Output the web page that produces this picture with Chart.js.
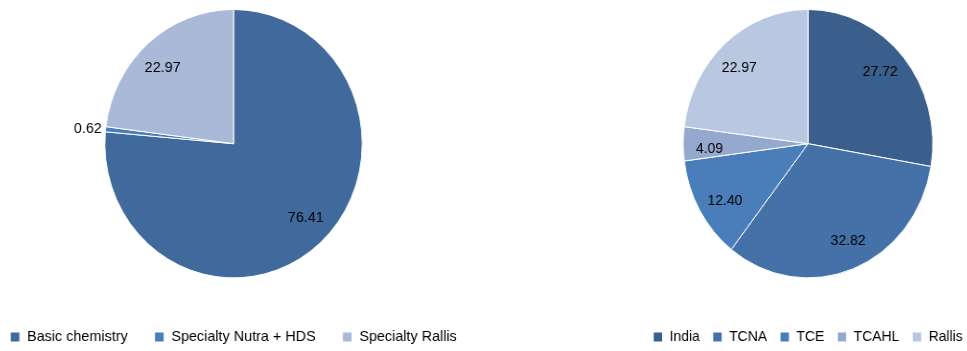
<!DOCTYPE html>
<html>
<head>
<meta charset="utf-8">
<script src="https://cdn.jsdelivr.net/npm/chart.js@4/dist/chart.umd.min.js"></script>
<style>
  html, body { margin: 0; padding: 0; background: #fff; overflow: hidden; width: 967px; height: 351px; }
  .pieBox { position: absolute; top: 0; transform-origin: 0 0; }
</style>
</head>
<body>
<div class="pieBox" id="leftBox" style="left:-35.3px; transform:scaleX(0.959)">
  <canvas id="segments" width="560" height="355"></canvas>
</div>
<div class="pieBox" id="rightBox" style="left:622.4px; transform:scaleX(0.93)">
  <canvas id="entities" width="400" height="355"></canvas>
</div>
<script>
// Segment split
var segmentLabels = ["Basic chemistry", "Specialty Nutra + HDS", "Specialty Rallis"];
var segmentValues = [76.41, 0.62, 22.97];
var segmentColors = ["#416A9C", "#4A7EBB", "#A9B9D7"];

// Entity split
var entityLabels = ["India", "TCNA", "TCE", "TCAHL", "Rallis"];
var entityValues = [27.72, 32.82, 12.40, 4.09, 22.97];
var entityColors = ["#3B5F8D", "#4472A8", "#4A7EBB", "#95A9CF", "#BAC7E0"];

var FONT = '"Liberation Sans", Arial, sans-serif';

// value labels inside each slice, tiny slices get theirs outside
const sliceLabels = {
    id: "sliceLabels",
    afterDatasetsDraw(chart) {
        const ctx = chart.ctx;
        const meta = chart.getDatasetMeta(0);
        const values = chart.data.datasets[0].data;
        const total = values.reduce((a, b) => a + b, 0);
        ctx.save();
        ctx.font = "15px " + FONT;
        ctx.fillStyle = "#000";
        ctx.textBaseline = "middle";
        meta.data.forEach((arc, i) => {
            const p = arc.getProps(["x", "y", "startAngle", "endAngle", "outerRadius"], true);
            const mid = (p.startAngle + p.endAngle) / 2;
            const text = values[i].toFixed(2);
            if (values[i] / total < 0.02) {
                ctx.textAlign = "right";
                ctx.fillText(text, p.x + Math.cos(mid) * (p.outerRadius + 4), p.y + Math.sin(mid) * (p.outerRadius + 4));
            } else {
                // a little before the middle of the slice
                const a = mid - 0.05;
                ctx.textAlign = "center";
                ctx.fillText(text, p.x + Math.cos(a) * p.outerRadius * 0.79, p.y + Math.sin(a) * p.outerRadius * 0.79);
            }
        });
        ctx.restore();
    }
};

function makePie(id, labels, values, colors, itemGap, titlePad) {
    return new Chart(document.getElementById(id), {
        type: "pie",
        data: {
            labels: labels,
            datasets: [{
                data: values,
                backgroundColor: colors,
                borderColor: "#fff",
                borderWidth: 1
            }]
        },
        options: {
            responsive: false,
            animation: false,
            layout: { padding: { top: 9, bottom: 0.5, left: 0, right: 0 } },
            plugins: {
                tooltip: { enabled: false },
                legend: {
                    position: "bottom",
                    // empty title only adds room between pie and legend
                    title: { display: true, text: "", font: { size: 10 }, padding: titlePad },
                    labels: {
                        boxWidth: 10,
                        boxHeight: 10,
                        padding: itemGap,
                        color: "#000",
                        font: { family: FONT, size: 15 }
                    }
                }
            }
        },
        plugins: [sliceLabels]
    });
}

makePie("segments", segmentLabels, segmentValues, segmentColors, 28, 5.55);
makePie("entities", entityLabels, entityValues, entityColors, 14, 12.55);
</script>
</body>
</html>
